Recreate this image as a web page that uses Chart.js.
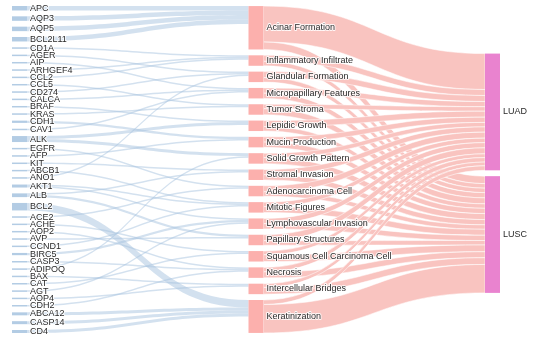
<!DOCTYPE html>
<html>
<head>
<meta charset="utf-8">
<script src="https://cdn.jsdelivr.net/npm/chart.js@4"></script>
<style>
  body { margin: 0; background: #fff; }
  #wrap { width: 537px; height: 341px; }
</style>
</head>
<body>
<div id="wrap"><canvas id="sankeyChart"></canvas></div>
<script>
// 三欄節點：基因 -> 病理特徵 -> 分類
const genes = ['APC', 'AQP3', 'AQP5', 'BCL2L11', 'CD1A', 'AGER', 'AIP', 'ARHGEF4', 'CCL2', 'CCL5',
    'CD274', 'CALCA', 'BRAF', 'KRAS', 'CDH1', 'CAV1', 'ALK', 'EGFR', 'AFP', 'KIT', 'ABCB1', 'ANO1',
    'AKT1', 'ALB', 'BCL2', 'ACE2', 'ACHE', 'AOP2', 'AVP', 'CCND1', 'BIRC5', 'CASP3', 'ADIPOQ', 'BAX',
    'CAT', 'AGT', 'AOP4', 'CDH2', 'ABCA12', 'CASP14', 'CD4'];
const features = ['Acinar Formation', 'Inflammatory Infiltrate', 'Glandular Formation', 'Micropapillary Features',
    'Tumor Stroma', 'Lepidic Growth', 'Mucin Production', 'Solid Growth Pattern', 'Stromal Invasion',
    'Adenocarcinoma Cell', 'Mitotic Figures', 'Lymphovascular Invasion', 'Papillary Structures',
    'Squamous Cell Carcinoma Cell', 'Necrosis', 'Intercellular Bridges', 'Keratinization'];
const classes = ['LUAD', 'LUSC'];

// 基因 -> 特徵 連結
const gfSource = ['APC', 'AQP3', 'AQP5', 'BCL2L11', 'CD1A', 'AGER', 'AIP', 'ARHGEF4', 'CCL2', 'CCL5',
    'CD274', 'CALCA', 'BRAF', 'KRAS', 'CDH1', 'CAV1', 'ALK', 'ALK', 'EGFR', 'AFP', 'KIT', 'ABCB1', 'ANO1',
    'AKT1', 'AKT1', 'ALB', 'ALB', 'BCL2', 'ACE2', 'ACHE', 'AOP2', 'AVP', 'CCND1', 'BIRC5', 'CASP3', 'ADIPOQ',
    'BAX', 'CAT', 'AGT', 'AOP4', 'CDH2', 'ABCA12', 'CASP14', 'CD4'];
const gfTarget = ['Acinar Formation', 'Acinar Formation', 'Acinar Formation', 'Acinar Formation',
    'Inflammatory Infiltrate', 'Glandular Formation', 'Micropapillary Features', 'Inflammatory Infiltrate',
    'Inflammatory Infiltrate', 'Tumor Stroma', 'Glandular Formation', 'Micropapillary Features',
    'Lepidic Growth', 'Tumor Stroma', 'Mucin Production', 'Micropapillary Features', 'Lepidic Growth',
    'Solid Growth Pattern', 'Adenocarcinoma Cell', 'Mucin Production', 'Stromal Invasion', 'Mitotic Figures',
    'Glandular Formation', 'Mitotic Figures', 'Lymphovascular Invasion', 'Stromal Invasion',
    'Papillary Structures', 'Keratinization', 'Adenocarcinoma Cell', 'Squamous Cell Carcinoma Cell',
    'Necrosis', 'Papillary Structures', 'Mitotic Figures', 'Lymphovascular Invasion', 'Necrosis',
    'Solid Growth Pattern', 'Intercellular Bridges', 'Squamous Cell Carcinoma Cell', 'Lymphovascular Invasion',
    'Intercellular Bridges', 'Necrosis', 'Keratinization', 'Keratinization', 'Keratinization'];
const gfValue = [3, 3, 3, 3, 1, 1, 1, 1, 1, 1, 1, 1, 1, 1, 1.5, 1, 2, 2, 1, 1, 1, 1, 1,
    1, 1, 1, 1.5, 5, 1, 1, 1, 1, 1, 1.5, 1, 1, 1, 1, 1, 1, 1, 2, 2, 2];

// 特徵 -> 分類 連結 (LUAD, LUSC)
const luadValue = [24, 4, 4, 3.5, 3, 4, 3.5, 3, 3.5, 4, 3, 3.5, 4, 2.5, 3, 2.5, 3];
const luscValue = [5, 3, 3, 3.5, 4, 3, 3.5, 4, 3.5, 3, 4, 3.5, 3, 4.5, 4, 4.5, 19];

const NODE_PAD = 3.9;      // 節點間距（數值單位）
const NODE_WIDTH = 15;     // 節點寬度（像素）

function buildSankey() {
    const columns = [genes, features, classes];
    const nodes = {};
    columns.forEach((names, col) => names.forEach(name => {
        nodes[name] = { name, col, inV: 0, outV: 0, out: [], in: [] };
    }));

    const links = [];
    gfSource.forEach((s, i) => links.push({ source: s, target: gfTarget[i], value: gfValue[i], kind: 'gene' }));
    features.forEach((f, i) => {
        links.push({ source: f, target: 'LUAD', value: luadValue[i], kind: 'class' });
        links.push({ source: f, target: 'LUSC', value: luscValue[i], kind: 'class' });
    });
    links.forEach(l => {
        nodes[l.source].outV += l.value; nodes[l.source].out.push(l);
        nodes[l.target].inV += l.value; nodes[l.target].in.push(l);
    });

    const totals = columns.map(names =>
        names.reduce((a, n) => a + Math.max(nodes[n].inV, nodes[n].outV), 0) + (names.length - 1) * NODE_PAD);
    const yMax = Math.max(...totals);

    columns.forEach((names, col) => {
        // 右欄略往下偏，接近原圖
        let y = (yMax - totals[col]) / 2 + (col === 2 ? 2.5 : 0);
        names.forEach(n => {
            const node = nodes[n];
            node.value = Math.max(node.inV, node.outV);
            node.y0 = y;
            node.y1 = y + node.value;
            y = node.y1 + NODE_PAD;
        });
    });

    Object.values(nodes).forEach(node => {
        let y = node.y0;
        node.out.sort((a, b) => nodes[a.target].y0 - nodes[b.target].y0)
            .forEach(l => { l.sy = y; y += l.value; });
        y = node.y0;
        node.in.sort((a, b) => nodes[a.source].y0 - nodes[b.source].y0)
            .forEach(l => { l.ty = y; y += l.value; });
    });
    return { nodes, links, yMax };
}

const sankey = buildSankey();

const sankeyPlugin = {
    id: 'sankeyDraw',
    beforeDatasetsDraw(chart) {
        const { ctx, scales: { x, y } } = chart;
        const nodes = sankey.nodes;

        // 連結
        ['gene', 'class'].forEach(kind => {
            sankey.links.filter(l => l.kind === kind).forEach(l => {
                const x0 = x.getPixelForValue(nodes[l.source].col) + NODE_WIDTH;
                const x1 = x.getPixelForValue(nodes[l.target].col);
                const xm = (x0 + x1) / 2;
                const s0 = y.getPixelForValue(l.sy), s1 = y.getPixelForValue(l.sy + l.value);
                const t0 = y.getPixelForValue(l.ty), t1 = y.getPixelForValue(l.ty + l.value);
                ctx.beginPath();
                ctx.moveTo(x0, s0);
                ctx.bezierCurveTo(xm, s0, xm, t0, x1, t0);
                ctx.lineTo(x1, t1);
                ctx.bezierCurveTo(xm, t1, xm, s1, x0, s1);
                ctx.closePath();
                if (kind === 'gene') {
                    ctx.fillStyle = 'rgba(168, 196, 224, 0.5)';
                    ctx.fill();
                } else {
                    ctx.fillStyle = '#f9c4c0';
                    ctx.fill();
                    ctx.strokeStyle = 'rgba(255,255,255,0.9)';
                    ctx.lineWidth = 0.6;
                    ctx.stroke();
                }
            });
        });

        // 節點
        const nodeColors = ['#b3cce4', '#fcb0ad', '#e983cf'];
        Object.values(nodes).forEach(n => {
            const px = x.getPixelForValue(n.col);
            const top = y.getPixelForValue(n.y0), bottom = y.getPixelForValue(n.y1);
            ctx.fillStyle = nodeColors[n.col];
            ctx.fillRect(px, top, NODE_WIDTH, bottom - top);
        });

        // 標籤
        ctx.font = '9px "Liberation Sans", Arial, sans-serif';
        ctx.textBaseline = 'middle';
        ctx.textAlign = 'left';
        ctx.lineJoin = 'round';
        Object.values(nodes).forEach(n => {
            const px = x.getPixelForValue(n.col) + NODE_WIDTH + 3;
            const cy = y.getPixelForValue((n.y0 + n.y1) / 2);
            ctx.strokeStyle = 'rgba(255,255,255,0.85)';
            ctx.lineWidth = 2;
            ctx.strokeText(n.name, px, cy);
            ctx.fillStyle = '#2a2a2a';
            ctx.fillText(n.name, px, cy);
        });
    }
};

new Chart(document.getElementById('sankeyChart'), {
    type: 'scatter',
    data: { datasets: [{ data: [], pointRadius: 0 }] },
    plugins: [sankeyPlugin],
    options: {
        responsive: true,
        maintainAspectRatio: false,
        animation: false,
        layout: { padding: { left: 12, right: 52, top: 6, bottom: 8 } },
        plugins: { legend: { display: false }, tooltip: { enabled: false } },
        scales: {
            x: { type: 'linear', min: 0, max: 2, display: false },
            y: { type: 'linear', min: 0, max: sankey.yMax, reverse: true, display: false }
        }
    }
});
</script>
</body>
</html>
